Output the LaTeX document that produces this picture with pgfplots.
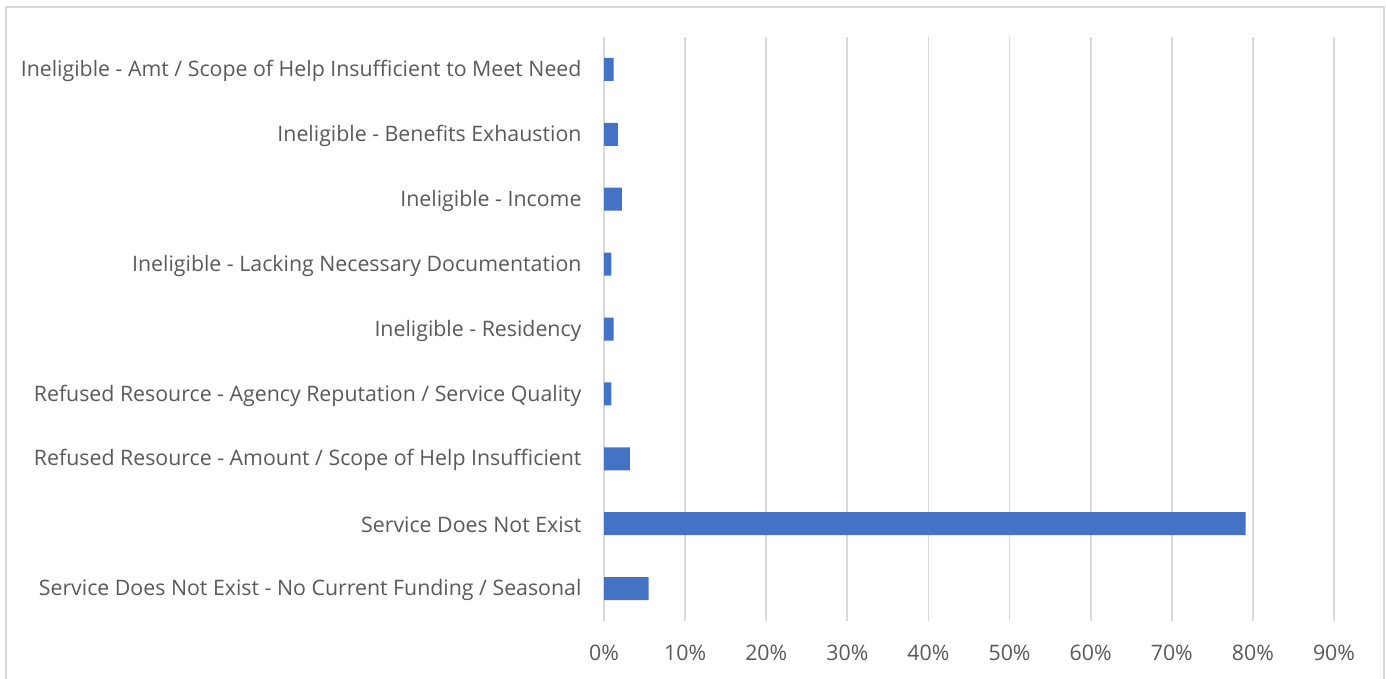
\documentclass[border=0pt]{standalone}
\usepackage{pgfplots}
\pgfplotsset{compat=1.18}
\usepackage{fontspec}
\setmainfont{Open Sans}
\definecolor{barblue}{HTML}{4472C4}
\definecolor{gridgray}{HTML}{D9D9D9}
\definecolor{labelgray}{HTML}{595959}

\pgfplotstableread[col sep=comma]{
idx,value
0,1.2
1,1.7
2,2.2
3,0.9
4,1.2
5,0.9
6,3.2
7,79.1
8,5.5
}\reasons

\begin{document}
\begin{tikzpicture}
\useasboundingbox (0,0) rectangle (693bp,339.5bp);
\draw[gridgray, line width=0.6bp] (3bp,-2bp) rectangle (692bp,336bp);
\begin{axis}[
  at={(302bp,29bp)}, anchor=south west,
  scale only axis,
  width=365bp, height=292bp,
  xbar, bar width=11.5bp,
  xmin=0, xmax=90,
  ymin=-0.5, ymax=8.5,
  y dir=reverse,
  axis line style={draw=none},
  xmajorgrids,
  grid style={gridgray, line width=0.9bp},
  xtick={0,10,...,90},
  xticklabel={\pgfmathprintnumber{\tick}\%},
  /pgf/number format/assume math mode=true,
  ytick={0,...,8},
  yticklabels={
    Ineligible - Amt / Scope of Help Insufficient to Meet Need,
    Ineligible - Benefits Exhaustion,
    Ineligible - Income,
    Ineligible - Lacking Necessary Documentation,
    Ineligible - Residency,
    Refused Resource - Agency Reputation / Service Quality,
    Refused Resource - Amount / Scope of Help Insufficient,
    Service Does Not Exist,
    Service Does Not Exist - No Current Funding / Seasonal
  },
  tick style={draw=none},
  ticklabel style={font=\fontsize{10.7}{12}\selectfont, text=labelgray},
  yticklabel style={xshift=-3.5bp, yshift=-0.8bp},
  xticklabel style={yshift=-8.5bp},
]
\addplot[fill=barblue, draw=none] table[x=value, y=idx] {\reasons};
\end{axis}
\end{tikzpicture}
\end{document}
